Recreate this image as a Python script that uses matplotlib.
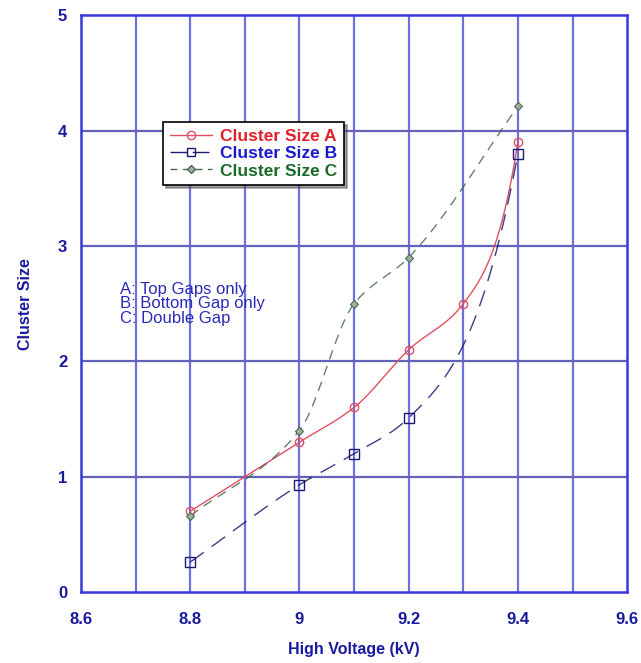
import numpy as np
import matplotlib
matplotlib.use("Agg")
import matplotlib.pyplot as plt
from matplotlib.lines import Line2D

plt.rcParams['font.family'] = ['Liberation Sans', 'DejaVu Sans']

x_a = [8.8, 9.0, 9.1, 9.2, 9.3, 9.4]
y_a = [0.70, 1.30, 1.60, 2.10, 2.50, 3.90]
x_b = [8.8, 9.0, 9.1, 9.2, 9.4]
y_b = [0.26, 0.93, 1.20, 1.51, 3.80]
x_c = [8.8, 9.0, 9.1, 9.2, 9.4]
y_c = [0.66, 1.40, 2.50, 2.90, 4.21]
labels = ["Cluster Size A", "Cluster Size B", "Cluster Size C"]
notes = "A: Top Gaps only\nB: Bottom Gap only\nC: Double Gap"


def smooth(x, y, steep_end=True, n=300):
    x = np.asarray(x, float); y = np.asarray(y, float)
    h = np.diff(x); d = np.diff(y) / h
    m = np.zeros_like(y)
    for k in range(1, len(x) - 1):
        if d[k - 1] * d[k] > 0:
            w1 = 2 * h[k] + h[k - 1]; w2 = h[k] + 2 * h[k - 1]
            m[k] = (w1 + w2) / (w1 / d[k - 1] + w2 / d[k])
    m[0] = d[0]
    m[-1] = (3 * d[-1] - 2 * m[-2]) if steep_end else d[-1]
    xs = np.linspace(x[0], x[-1], n)
    idx = np.clip(np.searchsorted(x, xs) - 1, 0, len(x) - 2)
    t = (xs - x[idx]) / h[idx]
    h00 = 2 * t**3 - 3 * t**2 + 1; h10 = t**3 - 2 * t**2 + t
    h01 = -2 * t**3 + 3 * t**2; h11 = t**3 - t**2
    ys = h00 * y[idx] + h10 * h[idx] * m[idx] + h01 * y[idx + 1] + h11 * h[idx] * m[idx + 1]
    return xs, ys


fig = plt.figure(figsize=(6.41, 6.63), dpi=100)
ax = fig.add_axes([0.1264, 0.107, 0.852, 0.870])
ax.set_xlim(8.6, 9.6)
ax.set_ylim(0, 5)

for xv in np.arange(8.7, 9.55, 0.1):
    ax.axvline(xv, color='#7070dc', lw=1.6, zorder=1)
for yv in [1, 2, 3, 4]:
    ax.axhline(yv, color='#6262b8', lw=1.6, zorder=1)

ca, cb, cc = '#e05060', '#1a1a70', '#4a6a50'
xs, ys = smooth(x_a, y_a, True)
ax.plot(xs, ys, color=ca, lw=1.0, zorder=3)
ax.plot(x_a, y_a, 'o', mfc='none', mec=ca, ms=6, mew=1.0, zorder=4)
xs, ys = smooth(x_b, y_b, True)
ax.plot(xs, ys, color=cb, lw=1.0, dashes=(12, 7), zorder=3, alpha=0.85)
ax.plot(x_b, y_b, 's', mfc='none', mec=cb, ms=6.5, mew=1.0, zorder=4)
xs, ys = smooth(x_c, y_c, False)
ax.plot(xs, ys, color=cc, lw=1.0, dashes=(7, 5), zorder=3, alpha=0.85)
ax.plot(x_c, y_c, 'D', mfc='#a0b0a0', mec=cc, ms=4.5, mew=0.8, zorder=4)

for s in ax.spines.values():
    s.set_color('#3838dd'); s.set_linewidth(1.8)
lab_c = '#1a1aa0'
ax.set_xticks([8.6, 8.8, 9.0, 9.2, 9.4, 9.6])
ax.set_xticklabels(['8.6', '8.8', '9', '9.2', '9.4', '9.6'])
ax.set_yticks([0, 1, 2, 3, 4, 5])
ax.tick_params(axis='both', direction='in', length=0, labelsize=12, labelcolor=lab_c)
ax.tick_params(axis='x', pad=14)
ax.tick_params(axis='y', pad=10)
for t in ax.get_xticklabels() + ax.get_yticklabels():
    t.set_fontweight('bold')
ax.set_xlabel('High Voltage (kV)', fontsize=11.5, fontweight='bold', color=lab_c, labelpad=11)
ax.set_ylabel('Cluster Size', fontsize=11.5, fontweight='bold', color=lab_c, labelpad=18)

ax.text(8.671, 2.69, notes, fontsize=12, color='#2a2ab8', va='top', ha='left',
        linespacing=0.98, zorder=5)

handles = [
    Line2D([], [], color=ca, lw=1, marker='o', mfc='none', mec=ca, ms=6),
    Line2D([], [], color=cb, lw=1, marker='s', mfc='none', mec=cb, ms=6, dashes=(12, 4)),
    Line2D([], [], color=cc, lw=1, marker='D', mfc='#a0b0a0', mec=cc, ms=4, dashes=(5, 4)),
]
leg = ax.legend(handles, labels, loc='upper left', bbox_to_anchor=(0.15, 0.815),
                prop={'weight': 'bold', 'size': 12.5}, frameon=True, fancybox=False,
                shadow=True, borderpad=0.4, labelspacing=0.12, handlelength=2.4,
                handletextpad=0.5, borderaxespad=0)
leg.get_frame().set_edgecolor('black'); leg.get_frame().set_linewidth(1.2)
for t, c in zip(leg.get_texts(), ['#e0202a', '#1a1acc', '#1a6a2a']):
    t.set_color(c)
leg.set_zorder(6)

fig.savefig('out.png', dpi=100)
